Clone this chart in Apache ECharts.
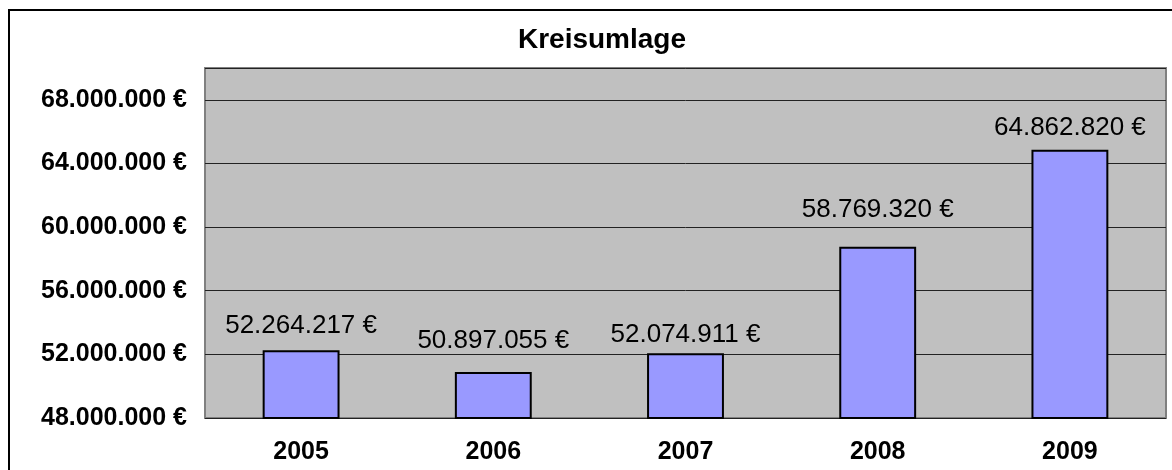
<!DOCTYPE html>
<html>
<head>
<meta charset="utf-8">
<script src="https://cdn.jsdelivr.net/npm/echarts@6/dist/echarts.min.js"></script>
<style>
    html, body { margin: 0; padding: 0; background: #fff; }
    #chart { width: 1172px; height: 470px; }
</style>
</head>
<body>
<div id="chart"></div>
<script>
    // Kreisumlage 2005–2009
    var years = ["2005", "2006", "2007", "2008", "2009"];
    var amounts = [52264217, 50897055, 52074911, 58769320, 64862820];

    var yMin = 48000000;
    var yMax = 70000000;
    var yStep = 4000000;

    var FONT = "Liberation Sans, Arial, sans-serif";

    /** Tausenderpunkte + Euro-Zeichen */
    function euro(v) {
        return String(Math.round(v)).replace(/\B(?=(\d{3})+(?!\d))/g, ".") + " €";
    }

    // Beschriftungsabstand wie im Original (Excel schiebt einzelne Labels hoch)
    var labelDistance = { "2005": 11, "2006": 18, "2007": 5, "2008": 24, "2009": 9 };

    var barData = amounts.map(function (v, i) {
        return { value: v, label: { distance: labelDistance[years[i]] } };
    });

    var chart = echarts.init(document.getElementById("chart"), null, { renderer: "canvas" });

    chart.setOption({
        backgroundColor: "#ffffff",
        animation: false,
        title: {
            text: "Kreisumlage",
            left: 597,
            top: 21,
            textAlign: "center",
            textStyle: { fontFamily: FONT, fontSize: 28, fontWeight: "bold", color: "#000" },
        },
        graphic: [
            {
                type: "rect",
                shape: { x: 9, y: 10, width: 1250, height: 520 },
                style: { fill: "none", stroke: "#000", lineWidth: 2 },
                silent: true,
            },
        ],
        grid: {
            left: 205, top: 68, width: 961, height: 350,
            show: true,
            backgroundColor: "#c0c0c0",
            borderColor: "#808080",
            borderWidth: 2,
        },
        xAxis: {
            type: "category",
            data: years,
            axisLine: { show: false },
            axisTick: { show: false },
            axisLabel: {
                margin: 22,
                fontFamily: FONT, fontSize: 25, fontWeight: "bold", color: "#000",
            },
        },
        yAxis: {
            type: "value",
            min: yMin,
            max: yMax,
            interval: yStep,
            axisLine: { show: false },
            axisTick: { show: false },
            splitLine: { lineStyle: { color: "#222", width: 1 } },
            axisLabel: {
                showMaxLabel: false,
                margin: 18,
                fontFamily: FONT, fontSize: 25, fontWeight: "bold", color: "#000",
                formatter: euro,
            },
        },
        series: [
            {
                type: "bar",
                data: barData,
                barWidth: "40%",
                itemStyle: { color: "#9999ff", borderColor: "#000", borderWidth: 2 },
                label: {
                    show: true,
                    position: "top",
                    distance: 9,
                    fontFamily: FONT, fontSize: 26, color: "#000",
                    formatter: function (p) { return euro(p.value); },
                },
            },
        ],
    });
</script>
</body>
</html>
